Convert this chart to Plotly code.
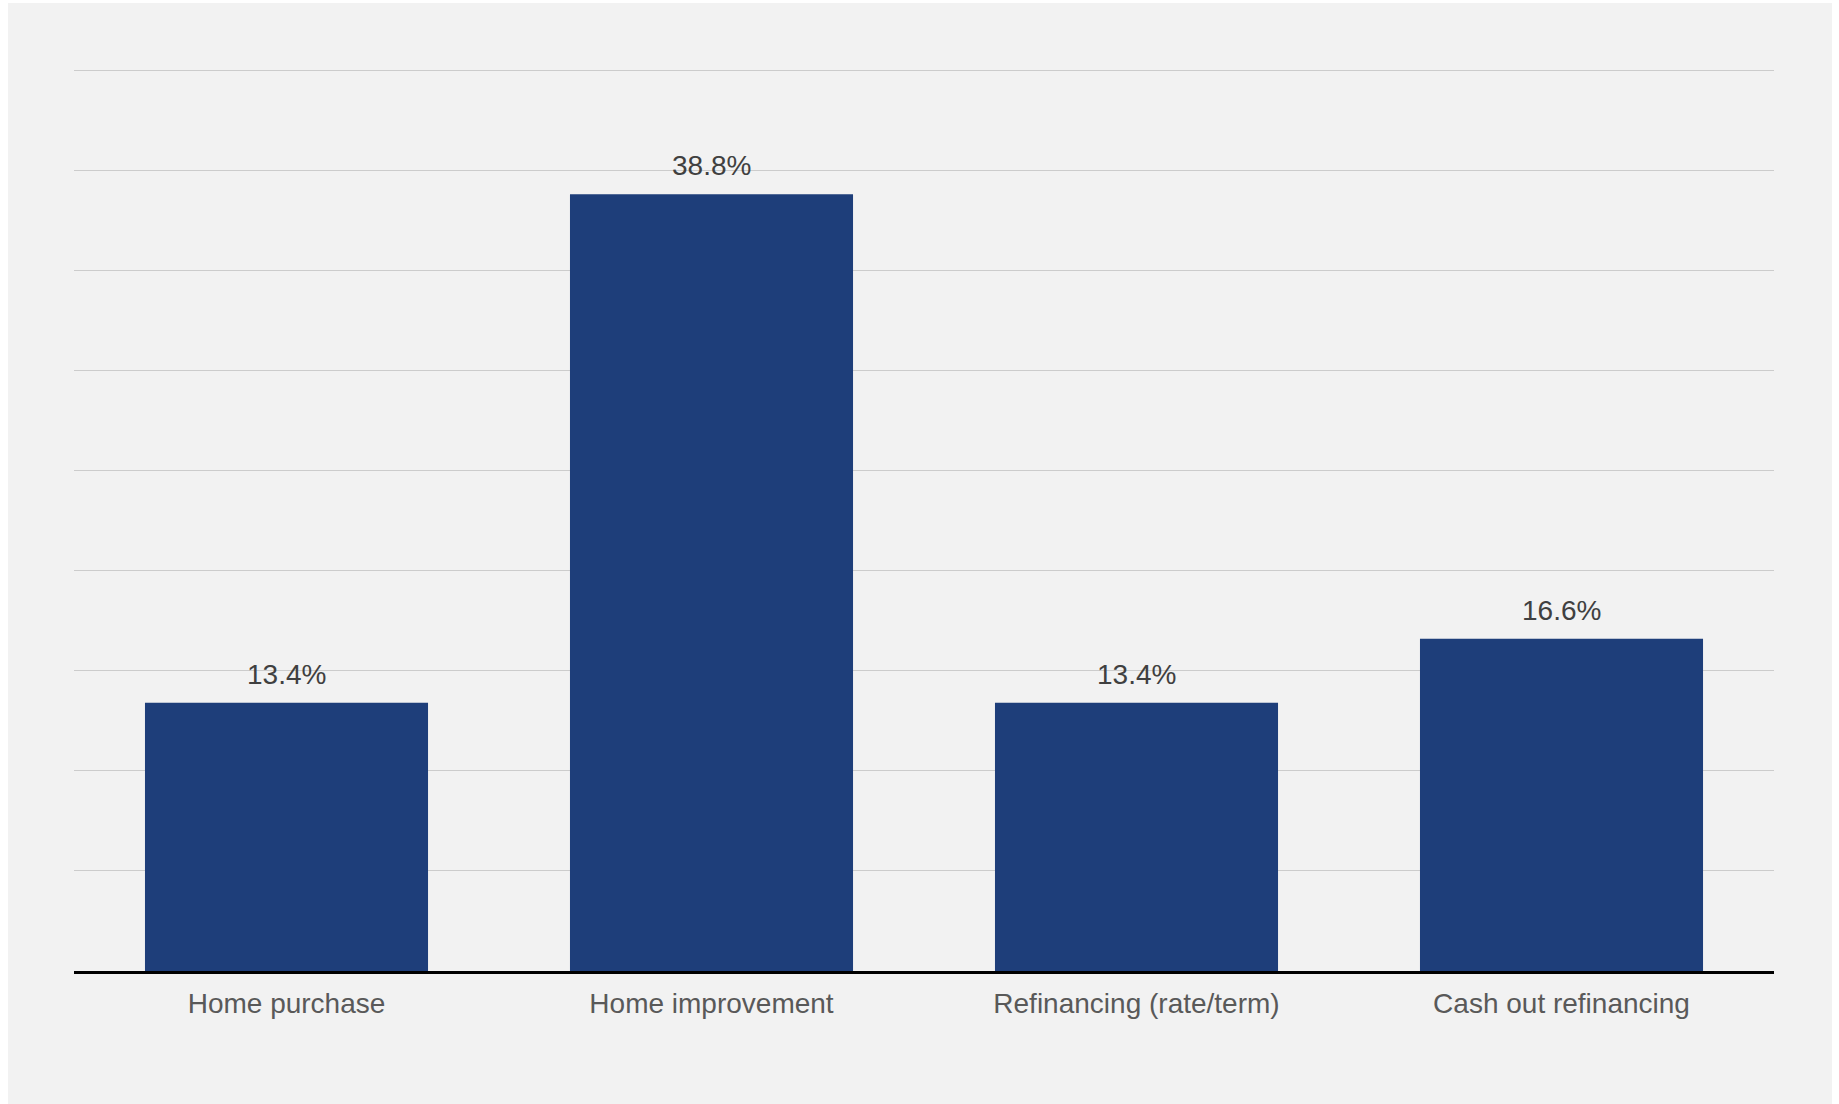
import plotly.graph_objects as go

# Share of loans by purpose
categories = ["Home purchase", "Home improvement", "Refinancing (rate/term)", "Cash out refinancing"]
shares = [13.4, 38.8, 13.4, 16.6]
value_labels = ["13.4%", "38.8%", "13.4%", "16.6%"]

W, H = 1839, 1104
ML, MR, MT, MB = 74, 65, 68, 133
plot_w = W - ML - MR
plot_h = H - MT - MB

FONT = "Liberation Sans, Arial, sans-serif"

fig = go.Figure()
fig.add_trace(go.Bar(
    x=categories,
    y=shares,
    marker=dict(color="#1e3e7a", line=dict(width=0)),
    hoverinfo="x+y",
))

# value labels above each bar
for cat, val, lab in zip(categories, shares, value_labels):
    fig.add_annotation(
        x=cat, y=val, text=lab, showarrow=False,
        yanchor="bottom", yshift=11,
        font=dict(family=FONT, size=28, color="#404040"),
    )

# light grey panel behind the chart
fig.add_shape(
    type="rect", xref="paper", yref="paper", layer="below",
    x0=(8 - ML) / plot_w, x1=(1832 - ML) / plot_w,
    y0=(MT + plot_h - H) / plot_h, y1=(MT + plot_h - 3) / plot_h,
    fillcolor="#f2f2f2", line=dict(width=0),
)

fig.update_layout(
    width=W, height=H,
    margin=dict(l=ML, r=MR, t=MT, b=MB, pad=0),
    paper_bgcolor="#ffffff",
    plot_bgcolor="rgba(0,0,0,0)",
    showlegend=False,
    bargap=0.334,
    font=dict(family=FONT, size=28, color="#595959"),
    xaxis=dict(
        showline=True, linecolor="#000000", linewidth=2.6,
        showgrid=False, ticks="", zeroline=False,
        tickfont=dict(family=FONT, size=28, color="#595959"),
        ticklabelstandoff=6,
    ),
    yaxis=dict(
        range=[0, 45.1], tickvals=[0, 5, 10, 15, 20, 25, 30, 35, 40, 45],
        showticklabels=False,
        showgrid=True, gridcolor="#cccccc", gridwidth=1.4,
        zeroline=False, ticks="",
    ),
)

fig.write_html("out.html")
